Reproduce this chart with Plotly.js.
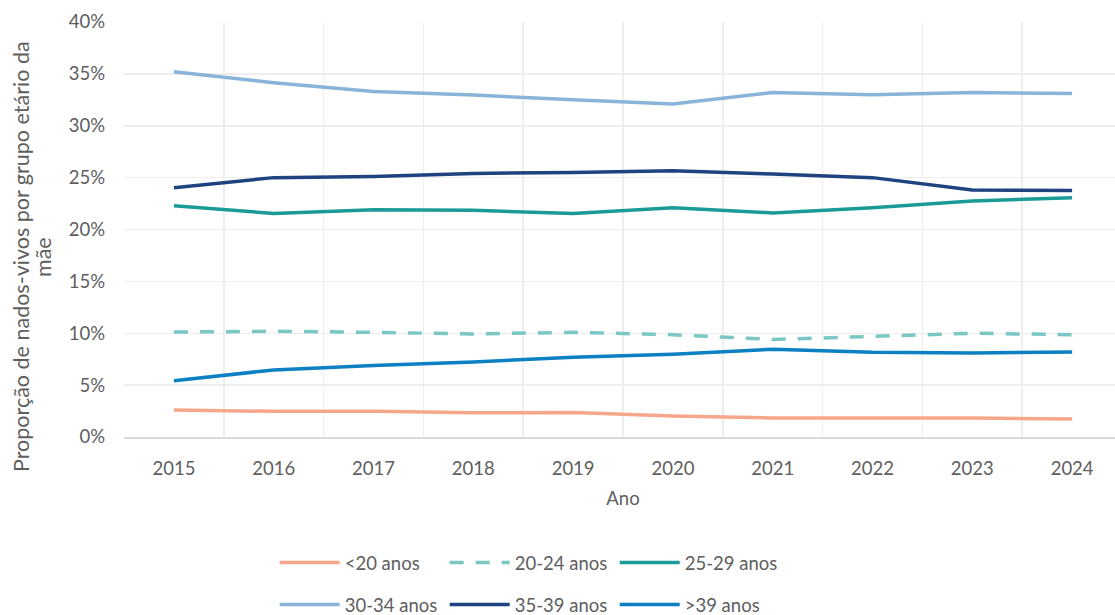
<!DOCTYPE html>
<html><head><meta charset="utf-8">
<script src="https://cdn.plot.ly/plotly-3.0.1.min.js"></script>
<style>html,body{margin:0;padding:0;overflow:hidden;background:#fff}</style>
</head><body><div id="chart"></div>
<script>
const years = ['2015','2016','2017','2018','2019','2020','2021','2022','2023','2024'];
const under20 = [2.60, 2.47, 2.47, 2.34, 2.36, 2.02, 1.83, 1.84, 1.83, 1.74];
const age20_24 = [10.12, 10.19, 10.09, 9.93, 10.09, 9.86, 9.40, 9.67, 10.00, 9.86];
const age25_29 = [22.30, 21.55, 21.90, 21.85, 21.55, 22.10, 21.60, 22.10, 22.75, 23.07];
const age30_34 = [35.20, 34.15, 33.30, 32.96, 32.50, 32.10, 33.20, 33.00, 33.20, 33.10];
const age35_39 = [24.03, 25.00, 25.10, 25.40, 25.50, 25.67, 25.35, 25.00, 23.80, 23.75];
const over39 = [5.43, 6.46, 6.90, 7.23, 7.68, 7.97, 8.45, 8.16, 8.10, 8.19];
const names = ['<20 anos','20-24 anos','25-29 anos','30-34 anos','35-39 anos','>39 anos'];
const colors = ['#F6A68B','#7BC7C3','#1B9B98','#89B4D9','#1F4281','#0B80C2'];
const series = [under20, age20_24, age25_29, age30_34, age35_39, over39];
const yTitleLines = ['Proporção de nados-vivos por grupo etário da', 'mãe'];
const xTitle = 'Ano';

const fontFam = 'Lato, "Open Sans", sans-serif';
const textCol = '#5E5E5E';
const traces = series.map((vals, i) => ({
  type: 'scatter', mode: 'lines', name: names[i],
  x: years, y: vals.map(v => v / 100),
  line: {color: colors[i], width: 3.5, dash: i === 1 ? '14px,12px' : 'solid'},
  legend: i < 3 ? 'legend' : 'legend2',
  hoverinfo: 'skip'
}));

const legendCommon = {
  orientation: 'h', xref: 'paper', x: 0.151, xanchor: 'left', yanchor: 'middle',
  entrywidth: 95, entrywidthmode: 'pixels', itemwidth: 60,
  font: {family: fontFam, size: 18.5, color: textCol}, bgcolor: 'rgba(0,0,0,0)'
};

const layout = {
  width: 1122, height: 615,
  margin: {l: 124, r: 0, t: 22, b: 178, autoexpand: false},
  paper_bgcolor: '#fff', plot_bgcolor: '#fff',
  font: {family: fontFam, color: textCol},
  showlegend: true,
  xaxis: {
    type: 'category', tickson: 'boundaries', range: [-0.5, 9.5],
    showgrid: true, gridcolor: '#EEEEEE', gridwidth: 1.5,
    showline: true, linecolor: '#D9D9D9', linewidth: 2,
    ticks: '', ticklabelstandoff: 14,
    tickfont: {size: 18.5, color: textCol, family: fontFam},
    title: {text: xTitle, font: {size: 18.5, color: textCol, family: fontFam}, standoff: 14},
    zeroline: false, fixedrange: true, automargin: false
  },
  yaxis: {
    range: [0, 0.40], dtick: 0.05, tickformat: '.0%',
    showgrid: true, gridcolor: '#EEEEEE', gridwidth: 1.5,
    zeroline: false, showline: false, ticks: '', ticklabelstandoff: 18,
    tickfont: {size: 18.5, color: textCol, family: fontFam},
    fixedrange: true, automargin: false
  },
  annotations: yTitleLines.map((t, i) => ({
    text: t, textangle: -90, xref: 'paper', yref: 'paper',
    x: (i === 0 ? 21 : 43) / 998 - 124 / 998, y: 0.4337, xanchor: 'center', yanchor: 'middle',
    showarrow: false, font: {size: 21.5, color: textCol, family: fontFam}
  })),
  legend: Object.assign({}, legendCommon, {y: -0.3036}),
  legend2: Object.assign({}, legendCommon, {y: -0.405})
};

Plotly.newPlot('chart', traces, layout, {displayModeBar: false, staticPlot: true});
</script></body></html>
